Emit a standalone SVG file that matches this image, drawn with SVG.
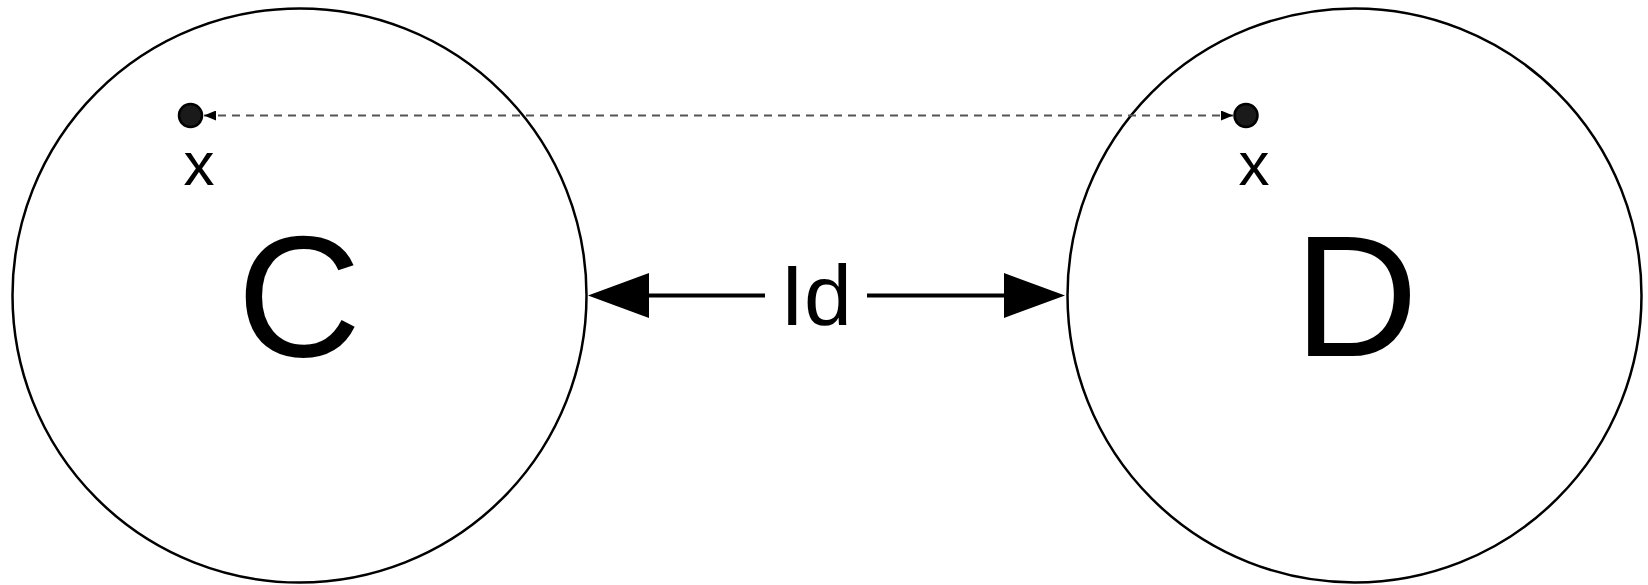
<svg xmlns="http://www.w3.org/2000/svg" width="1648" height="585" viewBox="0 0 1648 585">
<defs>
<style>
.set{fill:#fff;stroke:#000;stroke-width:2.5}
.pt{fill:#1a1a1a;stroke:#000;stroke-width:2.5}
.big{font-family:"Liberation Sans",Arial,sans-serif;font-size:172px;fill:#000;text-anchor:middle}
.lbl{font-family:"Liberation Sans",Arial,sans-serif;font-size:62px;fill:#000;text-anchor:middle}
.id{font-family:"Liberation Sans",Arial,sans-serif;font-size:86px;fill:#000;text-anchor:middle}
.dash{stroke:#555;stroke-width:2;stroke-dasharray:8 6;fill:none}
</style>
<marker id="sm" viewBox="0 0 12 10" refX="12" refY="5" markerWidth="12" markerHeight="10" markerUnits="userSpaceOnUse" orient="auto-start-reverse">
<path d="M0,0 L12,5 L0,10 Z" fill="#000"/>
</marker>
</defs>
<rect width="1648" height="585" fill="#fff"/>
<g id="node-C">
<circle class="set" cx="299.5" cy="295.5" r="287"/>
<text class="big" x="299" y="356">C</text>
</g>
<g id="node-D">
<circle class="set" cx="1354.5" cy="295.5" r="287"/>
<text class="big" x="1356" y="356">D</text>
</g>
<g id="node-xC">
<circle class="pt" cx="190.5" cy="115.5" r="11.5"/>
<text class="lbl" x="199" y="185">x</text>
</g>
<g id="node-xD">
<circle class="pt" cx="1246" cy="115.5" r="11.5"/>
<text class="lbl" x="1254" y="185">x</text>
</g>
<g id="connectors">
<line class="dash" x1="204" y1="115.5" x2="1233" y2="115.5" marker-start="url(#sm)" marker-end="url(#sm)"/>
<line x1="648" y1="295.5" x2="765" y2="295.5" stroke="#000" stroke-width="4"/>
<line x1="867" y1="295.5" x2="1005" y2="295.5" stroke="#000" stroke-width="4"/>
<polygon points="588,295.5 649,273 649,318" fill="#000"/>
<polygon points="1065,295.5 1004,273 1004,318" fill="#000"/>
<text class="id" x="816" y="325">Id</text>
</g>
</svg>
